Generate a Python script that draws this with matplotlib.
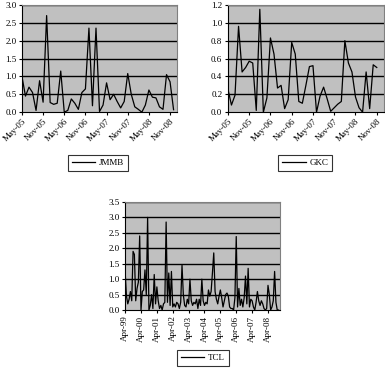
import matplotlib
matplotlib.use("Agg")
import matplotlib.pyplot as plt
import numpy as np

plt.rcParams['font.family'] = ['Liberation Serif', 'DejaVu Serif']

jmmb_labels = ["May-05", "Nov-05", "May-06", "Nov-06", "May-07", "Nov-07", "May-08", "Nov-08"]
jmmb = [1.0, 0.45, 0.7, 0.55, 0.05, 0.88, 0.28, 2.7, 0.27, 0.22, 0.25, 1.15, 0.0, 0.05,
        0.37, 0.25, 0.08, 0.55, 0.65, 2.35, 0.18, 2.35, 0.02, 0.2, 0.82, 0.35, 0.5, 0.3,
        0.12, 0.3, 1.08, 0.5, 0.15, 0.08, 0.0, 0.2, 0.62, 0.42, 0.4, 0.15, 0.08, 1.05,
        0.85, 0.07]

gkc_labels = jmmb_labels
gkc = [0.26, 0.08, 0.19, 0.96, 0.45, 0.5, 0.57, 0.55, 0.02, 1.15, 0.0, 0.16, 0.83, 0.65,
       0.27, 0.3, 0.04, 0.14, 0.78, 0.65, 0.12, 0.1, 0.3, 0.51, 0.52, 0.0, 0.18, 0.28,
       0.15, 0.01, 0.05, 0.09, 0.12, 0.8, 0.55, 0.45, 0.17, 0.05, 0.0, 0.45, 0.04, 0.53,
       0.5]

tcl_labels = ["Apr-99", "Apr-00", "Apr-01", "Apr-02", "Apr-03", "Apr-04", "Apr-05",
              "Apr-06", "Apr-07", "Apr-08"]
tcl = [1.25, 0.45, 0.2, 0.35, 0.6, 0.3, 1.9, 1.8, 0.3, 0.7, 0.9, 2.4, 0.0, 0.6, 0.65,
       1.3, 0.5, 3.0, 0.0, 0.15, 0.5, 0.05, 1.15, 0.2, 0.75, 0.3, 0.05, 0.15, 0.0, 0.2,
       0.25, 2.85, 0.25, 1.2, 0.15, 1.25, 0.1, 0.2, 0.1, 0.25, 0.2, 0.05, 0.25, 1.45,
       0.5, 0.15, 0.1, 0.35, 0.2, 1.0, 0.3, 0.15, 0.25, 0.2, 0.35, 0.05, 0.35, 0.15, 1.0,
       0.3, 0.15, 0.25, 0.2, 0.65, 0.45, 0.6, 1.2, 1.85, 0.6, 0.35, 0.2, 0.45, 0.65, 0.4,
       0.1, 0.3, 0.5, 0.55, 0.45, 0.1, 0.05, 0.05, 0.0, 0.4, 2.38, 0.1, 0.7, 0.15, 0.35,
       0.1, 0.4, 1.1, 0.2, 1.35, 0.1, 0.35, 0.3, 0.1, 0.0, 0.25, 0.6, 0.3, 0.15, 0.3, 0.2,
       0.05, 0.0, 0.05, 0.8, 0.5, 0.0, 0.1, 0.3, 1.25, 0.25, 0.0, 0.0]

fig = plt.figure(figsize=(3.85, 3.74), dpi=100)
fs = 6.5


def panel(rect, data, labels, step, xmax, ymax, ystep, yfmt, name, legpos, rot):
    ax = fig.add_axes(rect)
    ax.set_facecolor("#c0c0c0")
    x = np.arange(len(data))
    ax.plot(x, data, color="black", lw=0.9)
    ax.set_xlim(0, xmax)
    ax.set_ylim(0, ymax)
    yt = np.arange(0, ymax + 1e-9, ystep)
    ax.set_yticks(yt)
    ax.set_yticklabels([yfmt.format(v) for v in yt], fontsize=fs)
    for v in yt[1:]:
        ax.axhline(v, color="black", lw=1.0, zorder=1)
    xt = np.arange(len(labels)) * step
    ax.set_xticks(xt)
    if rot == 45:
        ax.set_xticklabels(labels, fontsize=fs, rotation=45, ha="right",
                           rotation_mode="anchor")
    else:
        ax.set_xticklabels(labels, fontsize=fs, rotation=90, ha="center", va="top")
    ax.tick_params(length=2.5, width=0.8, pad=1.5, color="black")
    for s in ["top", "right"]:
        ax.spines[s].set_color("#808080")
        ax.spines[s].set_linewidth(0.8)
    for s in ["left", "bottom"]:
        ax.spines[s].set_color("black")
        ax.spines[s].set_linewidth(0.8)
    leg = fig.legend([ax.lines[0]], [name], loc="center", bbox_to_anchor=legpos,
                     fontsize=fs, frameon=True, fancybox=False, handlelength=2.6,
                     borderpad=0.45, handletextpad=0.4, borderaxespad=0)
    leg.get_frame().set_edgecolor("black")
    leg.get_frame().set_linewidth(0.8)
    return ax


panel([0.057, 0.70, 0.403, 0.287], jmmb, jmmb_labels, 6, 44, 3.0, 0.5, "{:.1f}",
      "JMMB", (0.255, 0.564), 45)
panel([0.592, 0.70, 0.405, 0.287], gkc, gkc_labels, 6, 44, 1.2, 0.2, "{:.1f}",
      "GKC", (0.793, 0.564), 45)
panel([0.325, 0.171, 0.402, 0.289], tcl, tcl_labels, 12, 117, 3.5, 0.5, "{:.1f}",
      "TCL", (0.527, 0.043), 90)

fig.savefig("out.png", dpi=100)
